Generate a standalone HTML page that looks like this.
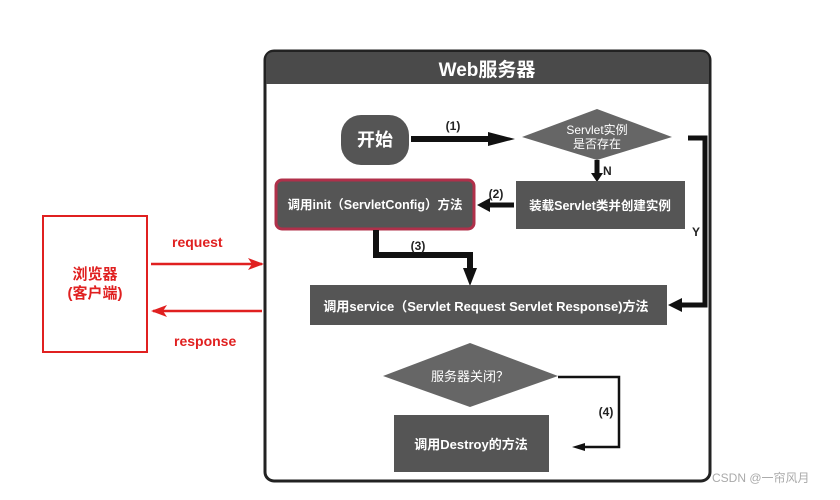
<!DOCTYPE html>
<html><head><meta charset="utf-8"><style>
body{margin:0;background:#fff;}
svg text{font-family:"Liberation Sans","Noto Sans CJK SC",sans-serif;}
</style></head><body>
<svg width="840" height="495" viewBox="0 0 840 495" xmlns="http://www.w3.org/2000/svg">
<defs>
<marker id="ar" markerWidth="16" markerHeight="12" refX="14" refY="6" orient="auto" markerUnits="userSpaceOnUse"><path d="M0,0 L16,6 L0,12 L4,6 z" fill="#e02020"/></marker>
</defs>
<rect x="0" y="0" width="840" height="495" fill="#fff"/>
<rect x="265" y="51" width="445" height="430" rx="9" fill="#fff" stroke="#222" stroke-width="3"/>
<path d="M266,84 L266,60 Q266,52 274,52 L701,52 Q709,52 709,60 L709,84 Z" fill="#4a4a4a"/>
<text x="487" y="76" font-size="19" fill="#fff" text-anchor="middle" font-weight="bold">Web服务器</text>
<rect x="341" y="115" width="68" height="50" rx="20" fill="#555"/>
<text x="375" y="146" font-size="18" fill="#fff" text-anchor="middle" font-weight="bold">开始</text>
<line x1="411" y1="139" x2="490" y2="139" stroke="#111" stroke-width="6"/>
<path d="M488,132 L515,139 L488,146 z" fill="#111"/>
<text x="453" y="130" font-size="12" font-weight="bold" text-anchor="middle" fill="#222">(1)</text>
<polygon points="522,137 597,109 672,137 597,160" fill="#666"/>
<text x="597" y="134" font-size="12" fill="#fff" text-anchor="middle">Servlet实例</text>
<text x="597" y="148" font-size="12" fill="#fff" text-anchor="middle">是否存在</text>
<line x1="597" y1="160" x2="597" y2="175" stroke="#111" stroke-width="5"/>
<path d="M591,173 L597,182 L603,173 z" fill="#111"/>
<text x="603" y="175" font-size="12" font-weight="bold" fill="#222">N</text>
<rect x="516" y="181" width="169" height="48" fill="#555"/>
<text x="600" y="210" font-size="12.5" fill="#fff" text-anchor="middle" font-weight="bold">装载Servlet类并创建实例</text>
<line x1="514" y1="205" x2="488" y2="205" stroke="#111" stroke-width="5"/>
<path d="M490,198 L477,205 L490,212 z" fill="#111"/>
<text x="496" y="198" font-size="12" font-weight="bold" text-anchor="middle" fill="#222">(2)</text>
<rect x="276" y="180" width="198" height="49" rx="6" fill="#555" stroke="#b0304a" stroke-width="3"/>
<text x="375" y="209" font-size="12.5" fill="#fff" text-anchor="middle" font-weight="bold">调用init（ServletConfig）方法</text>
<polyline points="376,230 376,255 470,255 470,272" fill="none" stroke="#111" stroke-width="6"/>
<path d="M463,268 L470,286 L477,268 z" fill="#111"/>
<text x="418" y="250" font-size="12" font-weight="bold" text-anchor="middle" fill="#222">(3)</text>
<polyline points="688,138 705,138 705,305 680,305" fill="none" stroke="#111" stroke-width="5"/>
<path d="M682,298 L668,305 L682,312 z" fill="#111"/>
<text x="692" y="236" font-size="12" font-weight="bold" fill="#222">Y</text>
<rect x="310" y="285" width="357" height="40" fill="#555"/>
<text x="486" y="311" font-size="13" fill="#fff" text-anchor="middle" font-weight="bold">调用service（Servlet Request Servlet Response)方法</text>
<polygon points="383,376 470,343 558,376 470,407" fill="#666"/>
<text x="470" y="381" font-size="13" fill="#fff" text-anchor="middle">服务器关闭？</text>
<rect x="394" y="415" width="155" height="57" fill="#555"/>
<text x="471" y="449" font-size="13" fill="#fff" text-anchor="middle" font-weight="bold">调用Destroy的方法</text>
<polyline points="558,377 619,377 619,447 582,447" fill="none" stroke="#111" stroke-width="2.5"/>
<path d="M585,443 L572,447 L585,451 z" fill="#111"/>
<text x="606" y="416" font-size="12" font-weight="bold" text-anchor="middle" fill="#222">(4)</text>
<rect x="43" y="216" width="104" height="136" fill="#fff" stroke="#e02020" stroke-width="2"/>
<text x="95" y="279" font-size="15" font-weight="bold" fill="#e02020" text-anchor="middle">浏览器</text>
<text x="95" y="298" font-size="15" font-weight="bold" fill="#e02020" text-anchor="middle">(客户端)</text>
<line x1="151" y1="264" x2="262" y2="264" stroke="#e02020" stroke-width="2.5" marker-end="url(#ar)"/>
<line x1="262" y1="311" x2="153" y2="311" stroke="#e02020" stroke-width="2.5" marker-end="url(#ar)"/>
<text x="172" y="247" font-size="14" font-weight="bold" fill="#e02020">request</text>
<text x="174" y="346" font-size="14" font-weight="bold" fill="#e02020">response</text>
<text x="712" y="482" font-size="12" fill="#aaa">CSDN @一帘风月</text>
</svg>
</body></html>
